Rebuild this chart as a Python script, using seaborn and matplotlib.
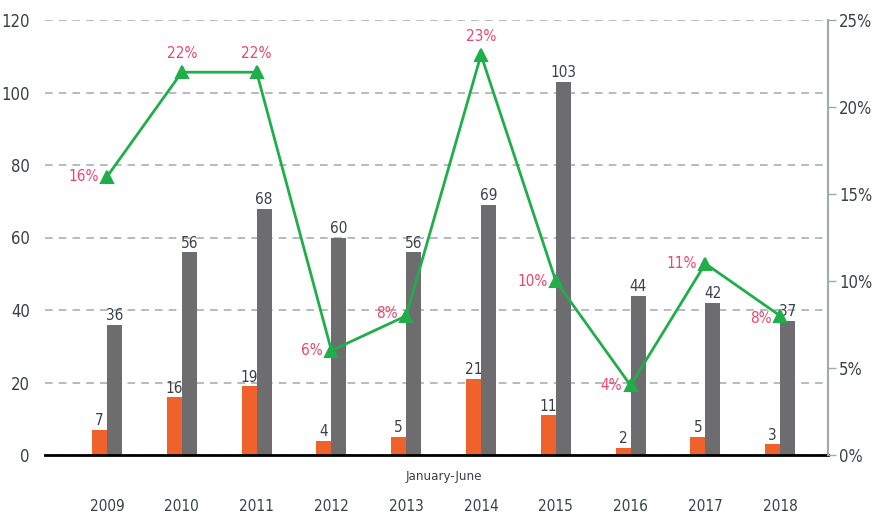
import numpy as np
import pandas as pd
import matplotlib
matplotlib.use("Agg")
import matplotlib.pyplot as plt
import seaborn as sns

years = ["2009", "2010", "2011", "2012", "2013", "2014", "2015", "2016", "2017", "2018"]
orange_vals = [7, 16, 19, 4, 5, 21, 11, 2, 5, 3]
gray_vals = [36, 56, 68, 60, 56, 69, 103, 44, 42, 37]
pct_vals = [16, 22, 22, 6, 8, 23, 10, 4, 11, 8]
left_ticks = [0, 20, 40, 60, 80, 100, 120]
right_ticks = [0, 5, 10, 15, 20, 25]
note_text = "January-June"

ORANGE = "#F0622B"
GRAY = "#6D6D6F"
GREEN = "#1FAE4A"
PINK = "#E9476E"
TXT = "#3A3F4A"

sns.set_theme(style="white")
plt.rcParams['font.family'] = ['DejaVu Sans']
plt.rcParams['font.stretch'] = 'condensed'

df = pd.DataFrame({
    "year": years * 2,
    "series": ["a"] * len(years) + ["b"] * len(years),
    "value": orange_vals + gray_vals,
})
dfp = pd.DataFrame({"year": years, "pct": pct_vals})

fig = plt.figure(figsize=(8.74, 5.19), dpi=100)
ax = fig.add_axes([45 / 874, 1 - 455 / 519, (828 - 45) / 874, (455 - 20) / 519])

sns.barplot(data=df, x="year", y="value", hue="series", palette=[ORANGE, GRAY],
            width=0.4, gap=0, linewidth=0, saturation=1, ax=ax, legend=False)
for cont in ax.containers:
    ax.bar_label(cont, fmt="%d", padding=1, color=TXT, fontsize=11)

ax.set_ylim(0, 120)
ax.set_yticks(left_ticks)
ax.yaxis.grid(True, color="#A3A8AC", linestyle=(0, (5, 4)), linewidth=1.1)
ax.set_axisbelow(True)
ax.tick_params(axis="y", length=0, pad=11, labelsize=12, labelcolor=TXT)
ax.tick_params(axis="x", length=0, pad=32, labelsize=11, labelcolor=TXT)
ax.set_xlabel("")
ax.set_ylabel("")
for s in ["top", "left", "right"]:
    ax.spines[s].set_visible(False)
ax.spines["bottom"].set_color("black")
ax.spines["bottom"].set_linewidth(2)

ax2 = ax.twinx()
sns.pointplot(data=dfp, x="year", y="pct", ax=ax2, color=GREEN, markers="^",
              markersize=9, linewidth=2)
ax2.set_ylim(0, 25)
ax2.set_yticks(right_ticks)
ax2.set_yticklabels([f"{t}%" for t in right_ticks])
ax2.tick_params(axis="y", length=6, width=1, color="#A3A8AC", pad=2, labelsize=12, labelcolor=TXT)
ax2.set_ylabel("")
ax2.set_xlabel("")
for s in ["top", "left", "bottom"]:
    ax2.spines[s].set_visible(False)
ax2.spines["right"].set_color("#A3A8AC")
ax2.spines["right"].set_linewidth(1.5)
ax2.grid(False)

offsets = {
    0: (-6, 0, "right", "center"),
    1: (0, 8, "center", "bottom"),
    2: (0, 8, "center", "bottom"),
    3: (-6, 0, "right", "center"),
    4: (-6, 2, "right", "center"),
    5: (0, 8, "center", "bottom"),
    6: (-6, 0, "right", "center"),
    7: (-6, 0, "right", "center"),
    8: (-6, 0, "right", "center"),
    9: (-6, -2, "right", "center"),
}
for i, v in enumerate(pct_vals):
    dx, dy, ha, va = offsets[i]
    ax2.annotate(f"{v}%", (i, v), xytext=(dx, dy), textcoords="offset points",
                 ha=ha, va=va, color=PINK, fontsize=11)

ax.set_xlim(-0.83, 9.64)
ax2.set_xlim(-0.83, 9.64)

ax.text(4.5, -0.05, note_text, transform=ax.get_xaxis_transform(), ha="center", va="center",
        fontsize=9.5, color=TXT)

fig.savefig("out.png", dpi=100)
